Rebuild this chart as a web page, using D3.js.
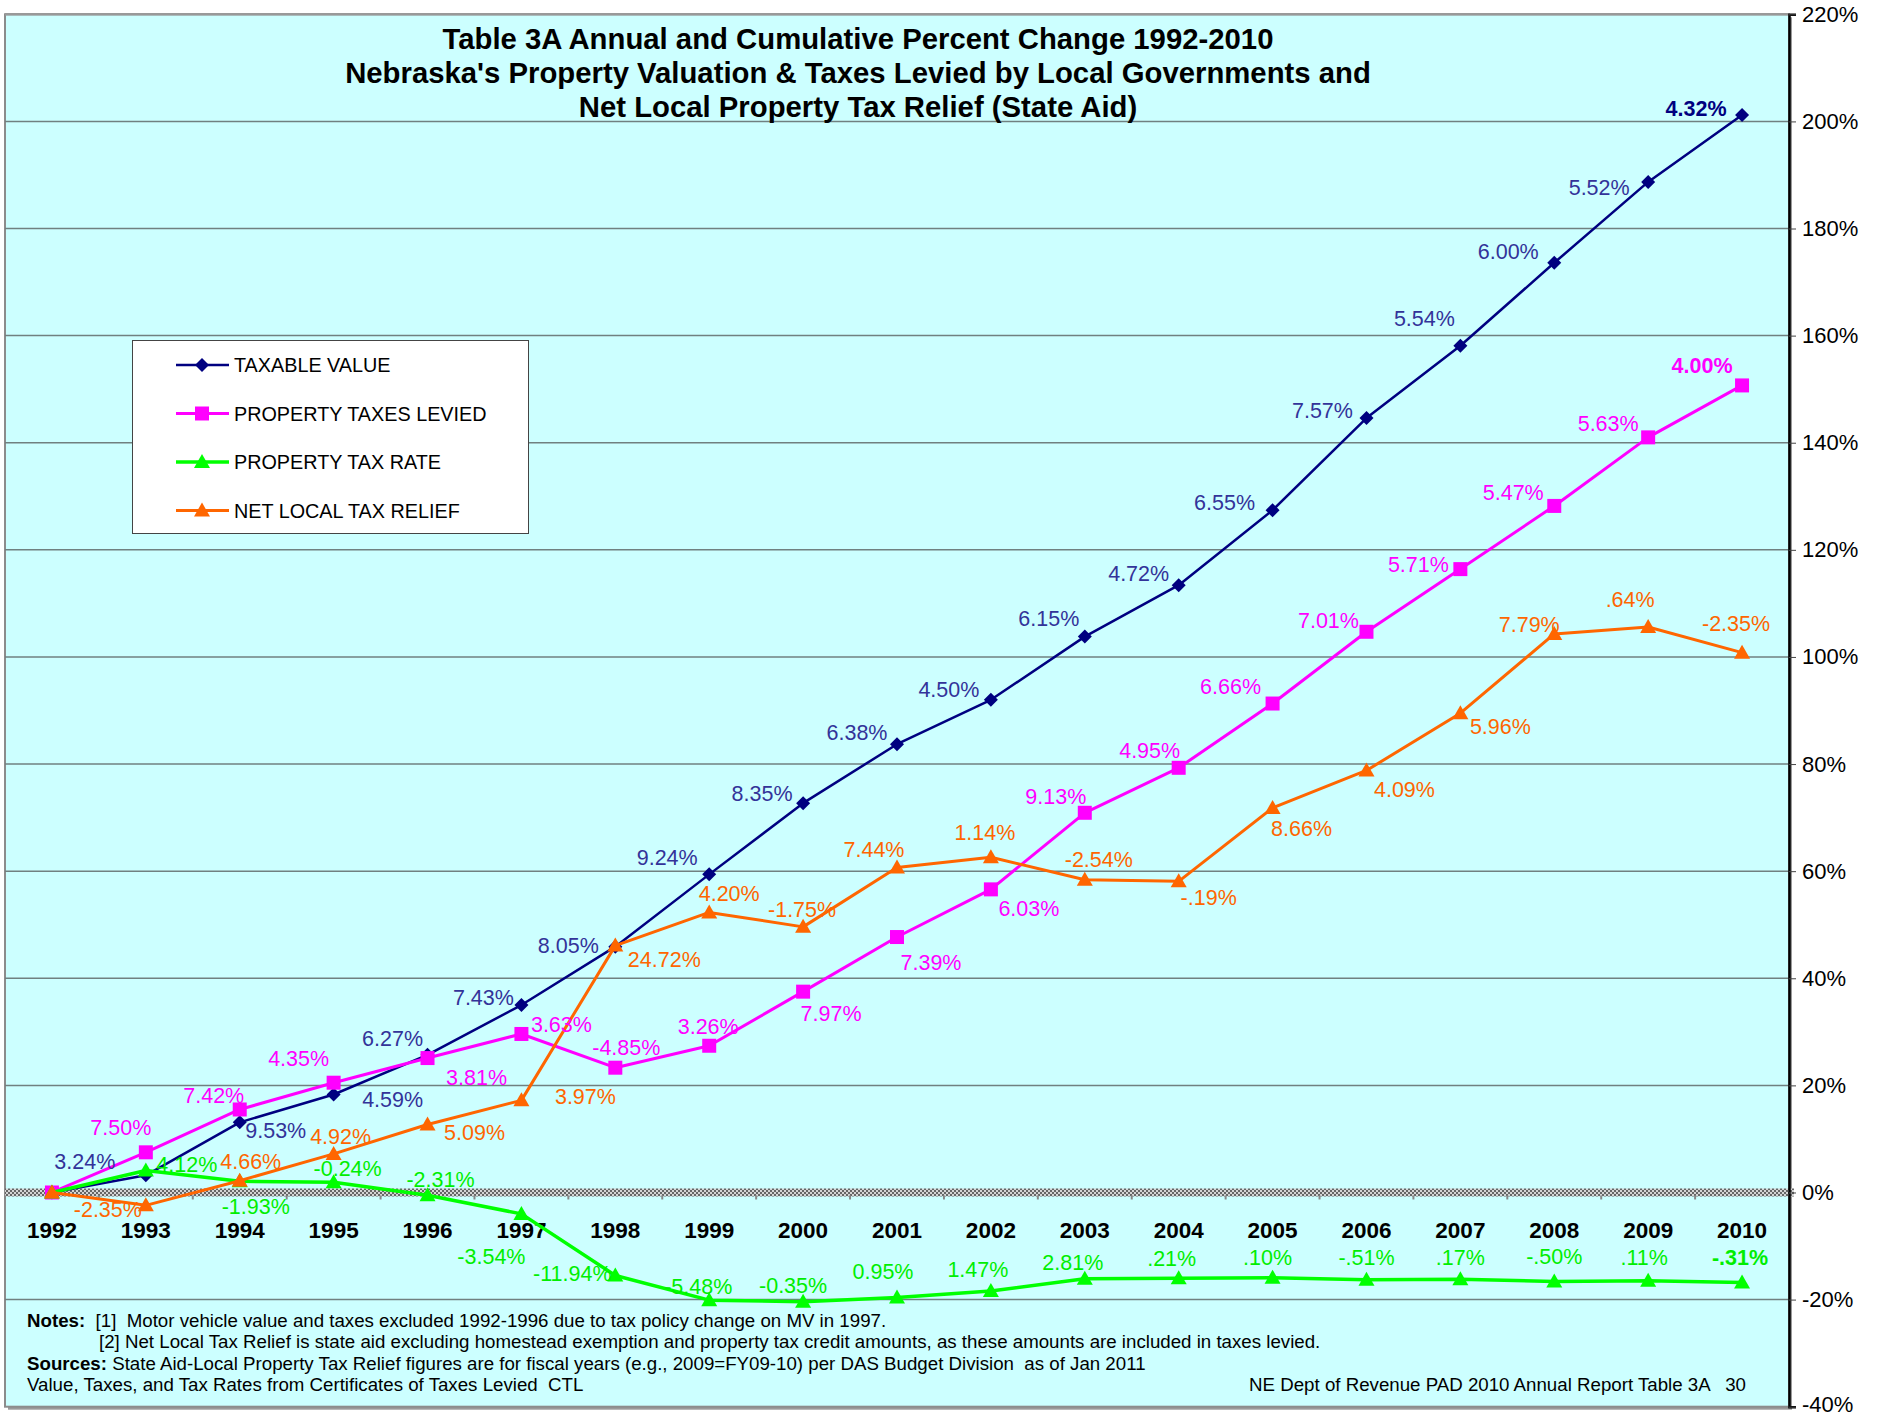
<!DOCTYPE html>
<html>
<head>
<meta charset="utf-8">
<script src="https://cdn.jsdelivr.net/npm/d3@7"></script>
<style>
body { margin: 0; background: #fff; }
svg { display: block; font-family: "Liberation Sans", Arial, sans-serif; }
.notes text { white-space: pre; }
</style>
</head>
<body>
<svg id="chart" width="1887" height="1416"></svg>
<script>
// categories
var years = [1992, 1993, 1994, 1995, 1996, 1997, 1998, 1999, 2000, 2001,
    2002, 2003, 2004, 2005, 2006, 2007, 2008, 2009, 2010];

// cumulative percent change
var taxableValue = [0, 3.2, 13.1, 18.3, 25.7, 35.0, 45.9, 59.4, 72.7, 83.7,
    92.0, 103.8, 113.4, 127.4, 144.6, 158.1, 173.6, 188.7, 201.2];
var taxesLevied = [0, 7.5, 15.5, 20.5, 25.1, 29.6, 23.3, 27.4, 37.5, 47.7,
    56.6, 70.9, 79.3, 91.3, 104.7, 116.4, 128.2, 141.0, 150.7];
var taxRate = [0, 4.1, 2.1, 1.9, -0.5, -4.0, -15.5, -20.1, -20.4, -19.6,
    -18.4, -16.1, -16.0, -15.9, -16.3, -16.2, -16.6, -16.5, -16.8];
var taxRelief = [0, -2.4, 2.2, 7.2, 12.7, 17.2, 46.1, 52.3, 49.6, 60.7,
    62.6, 58.4, 58.1, 71.8, 78.8, 89.5, 104.3, 105.6, 100.8];

// annual percent change labels
var taxableValueLabels = ["", "3.24%", "9.53%", "4.59%", "6.27%", "7.43%", "8.05%", "9.24%", "8.35%", "6.38%",
    "4.50%", "6.15%", "4.72%", "6.55%", "7.57%", "5.54%", "6.00%", "5.52%", "4.32%"];
var taxesLeviedLabels = ["", "7.50%", "7.42%", "4.35%", "3.81%", "3.63%", "-4.85%", "3.26%", "7.97%", "7.39%",
    "6.03%", "9.13%", "4.95%", "6.66%", "7.01%", "5.71%", "5.47%", "5.63%", "4.00%"];
var taxRateLabels = ["", "4.12%", "-1.93%", "-0.24%", "-2.31%", "-3.54%", "-11.94%", "-5.48%", "-0.35%", "0.95%",
    "1.47%", "2.81%", ".21%", ".10%", "-.51%", ".17%", "-.50%", ".11%", "-.31%"];
var taxReliefLabels = ["", "-2.35%", "4.66%", "4.92%", "5.09%", "3.97%", "24.72%", "4.20%", "-1.75%", "7.44%",
    "1.14%", "-2.54%", "-.19%", "8.66%", "4.09%", "5.96%", "7.79%", ".64%", "-2.35%"];

var yTicks = [-40, -20, 0, 20, 40, 60, 80, 100, 120, 140, 160, 180, 200, 220];

// hand placed label offsets (like the excel data labels)
var taxableValuePos = [[0, 0], [-61, -14], [36, 8], [59, 5], [-35, -17], [-38, -8], [-47, -1], [-42, -17], [-41, -10], [-40, -12],
    [-42, -11], [-36, -18], [-40, -12], [-48, -8], [-44, -8], [-36, -28], [-46, -12], [-49, 5], [-46, -7]];
var taxesLeviedPos = [[0, 0], [-25, -25], [-26, -14], [-35, -24], [49, 19], [40, -10], [11, -20], [-1, -19], [28, 22], [34, 25],
    [38, 19], [-29, -17], [-29, -18], [-42, -17], [-38, -12], [-42, -5], [-41, -14], [-40, -14], [-40, -20]];
var taxRatePos = [[0, 0], [41, -6], [16, 25], [14, -14], [13, -16], [-30, 42], [-43, -2], [-11, -14], [-10, -16], [-14, -26],
    [-13, -22], [-12, -16], [-7, -20], [-5, -20], [0, -23], [0, -22], [0, -25], [-4, -24], [-2, -25]];
var taxReliefPos = [[0, 0], [-38, 4], [11, -19], [7, -18], [47, 8], [64, -4], [49, 14], [20, -19], [-1, -18], [-23, -18],
    [-6, -25], [14, -20], [30, 16], [29, 20], [38, 19], [40, 13], [-25, -10], [-18, -28], [-6, -29]];

var series = [
    { name: "TAXABLE VALUE", color: "#000080", labelColor: "#333399", marker: "diamond", width: 2.5,
      values: taxableValue, labels: taxableValueLabels, pos: taxableValuePos },
    { name: "PROPERTY TAXES LEVIED", color: "#ff00ff", labelColor: "#ff00ff", marker: "square", width: 3,
      values: taxesLevied, labels: taxesLeviedLabels, pos: taxesLeviedPos },
    { name: "PROPERTY TAX RATE", color: "#00ff00", labelColor: "#00ee00", marker: "triangle", width: 3.5,
      values: taxRate, labels: taxRateLabels, pos: taxRatePos },
    { name: "NET LOCAL TAX RELIEF", color: "#ff6600", labelColor: "#ff6600", marker: "triangle", width: 3,
      values: taxRelief, labels: taxReliefLabels, pos: taxReliefPos }
];

var markerPaths = {
    diamond: "M0,-7L7,0L0,7L-7,0Z",
    square: "M-7,-7H7V7H-7Z",
    triangle: "M0,-8L8,6L-8,6Z"
};

var plot = { left: 5, right: 1789, top: 14.3, bottom: 1406.7 };

var svg = d3.select("#chart");

var x = d3.scaleBand()
    .domain(years)
    .range([plot.left, plot.right]);

var y = d3.scaleLinear()
    .domain([-40, 220])
    .range([plot.bottom, plot.top]);

function cx(i) {
    return x(years[i]) + x.bandwidth() / 2;
}

// pattern for the thick zero axis
var pat = svg.append("defs").append("pattern")
    .attr("id", "hatch")
    .attr("width", 4)
    .attr("height", 4)
    .attr("patternUnits", "userSpaceOnUse");
pat.append("rect").attr("width", 4).attr("height", 4).attr("fill", "#d4d4d4");
pat.append("rect").attr("width", 2).attr("height", 2).attr("fill", "#666");
pat.append("rect").attr("x", 2).attr("y", 2).attr("width", 2).attr("height", 2).attr("fill", "#666");

// plot area + shadow
svg.append("rect")
    .attr("x", plot.left + 3)
    .attr("y", plot.top + 3)
    .attr("width", plot.right - plot.left)
    .attr("height", plot.bottom - plot.top)
    .attr("fill", "#9a9a9a");

svg.append("rect")
    .attr("x", plot.left)
    .attr("y", plot.top)
    .attr("width", plot.right - plot.left)
    .attr("height", plot.bottom - plot.top)
    .attr("fill", "#ccffff")
    .attr("stroke", "#8c8c8c")
    .attr("stroke-width", 2);

// gridlines
svg.append("g")
    .attr("class", "grid")
    .selectAll("line")
    .data(yTicks.filter(function(d) { return d != 0 && d != -40; }))
    .enter().append("line")
    .attr("x1", plot.left)
    .attr("x2", plot.right)
    .attr("y1", function(d) { return y(d); })
    .attr("y2", function(d) { return y(d); })
    .attr("stroke", function(d) { return d == 220 ? "#999999" : "#708080"; })
    .attr("stroke-width", function(d) { return d == 220 ? 2.5 : 1.5; });

// zero axis band
svg.append("rect")
    .attr("x", plot.left)
    .attr("y", y(0) - 4)
    .attr("width", plot.right - plot.left + 5)
    .attr("height", 8)
    .attr("fill", "url(#hatch)");

svg.append("g")
    .selectAll("line")
    .data(years.concat(["end"]))
    .enter().append("line")
    .attr("x1", function(d) { return d == "end" ? plot.right : x(d); })
    .attr("x2", function(d) { return d == "end" ? plot.right : x(d); })
    .attr("y1", y(0) + 3)
    .attr("y2", y(0) + 7)
    .attr("stroke", "#888")
    .attr("stroke-width", 2);

// year labels
var xAxis = svg.append("g")
    .attr("transform", "translate(0," + y(0) + ")")
    .call(d3.axisBottom(x).tickSize(0).tickPadding(30));
xAxis.select(".domain").remove();
xAxis.selectAll("text")
    .attr("font-family", "Liberation Sans, Arial, sans-serif")
    .attr("font-size", 22.5)
    .attr("font-weight", "bold")
    .attr("fill", "#000");

// value axis on the right
var yAxis = svg.append("g")
    .attr("transform", "translate(" + plot.right + ",0)")
    .call(d3.axisRight(y).tickValues(yTicks).tickSize(7).tickPadding(6)
        .tickFormat(function(d) { return d + "%"; }));
yAxis.select(".domain")
    .attr("stroke", "#000")
    .attr("stroke-width", 2.5);
yAxis.selectAll(".tick line").attr("stroke", "#444");
yAxis.selectAll("text")
    .attr("font-family", "Liberation Sans, Arial, sans-serif")
    .attr("font-size", 22)
    .attr("dy", function(d) { return d == -40 ? "0.2em" : "0.32em"; })
    .attr("fill", "#000");

// series lines
var line = d3.line()
    .x(function(d, i) { return cx(i); })
    .y(function(d) { return y(d); });

var groups = svg.selectAll(".series")
    .data(series)
    .enter().append("g")
    .attr("class", "series");

groups.append("path")
    .attr("d", function(d) { return line(d.values); })
    .attr("fill", "none")
    .attr("stroke", function(d) { return d.color; })
    .attr("stroke-width", function(d) { return d.width; })
    .attr("stroke-linejoin", "round");

groups.each(function(s) {
    d3.select(this).selectAll(".marker")
        .data(s.values)
        .enter().append("path")
        .attr("class", "marker")
        .attr("d", markerPaths[s.marker])
        .attr("transform", function(d, i) {
            return "translate(" + cx(i) + "," + y(d) + ")";
        })
        .attr("fill", s.color);
});

// data labels, last one bold except the relief series
series.forEach(function(s) {
    var last = years.length - 1;
    svg.append("g")
        .selectAll("text")
        .data(s.labels)
        .enter().append("text")
        .attr("x", function(d, i) { return cx(i) + s.pos[i][0]; })
        .attr("y", function(d, i) { return y(s.values[i]) + s.pos[i][1]; })
        .attr("dy", "0.36em")
        .attr("text-anchor", "middle")
        .attr("font-size", 21.5)
        .attr("font-weight", function(d, i) {
            return i == last && s.name != "NET LOCAL TAX RELIEF" ? "bold" : "normal";
        })
        .attr("fill", function(d, i) { return i == last && s.name == "TAXABLE VALUE" ? "#000080" : s.labelColor; })
        .text(function(d) { return d; });
});

// title
var title = ["Table 3A Annual and Cumulative Percent Change 1992-2010",
    "Nebraska's Property Valuation & Taxes Levied by Local Governments and",
    "Net Local Property Tax Relief (State Aid)"];
svg.append("g")
    .selectAll("text")
    .data(title)
    .enter().append("text")
    .attr("x", 858)
    .attr("y", function(d, i) { return 48.5 + i * 34; })
    .attr("text-anchor", "middle")
    .attr("font-size", 29.3)
    .attr("font-weight", "bold")
    .attr("fill", "#000")
    .text(function(d) { return d; });

// legend
var legend = svg.append("g").attr("class", "legend");
legend.append("rect")
    .attr("x", 132.5)
    .attr("y", 340.5)
    .attr("width", 396)
    .attr("height", 193)
    .attr("fill", "#fff")
    .attr("stroke", "#444")
    .attr("stroke-width", 1);

var items = legend.selectAll(".item")
    .data(series)
    .enter().append("g")
    .attr("class", "item")
    .attr("transform", function(d, i) { return "translate(0," + (365 + i * 48.5) + ")"; });

items.append("line")
    .attr("x1", 176)
    .attr("x2", 229)
    .attr("stroke", function(d) { return d.color; })
    .attr("stroke-width", function(d) { return d.width; });
items.append("path")
    .attr("d", function(d) { return markerPaths[d.marker]; })
    .attr("transform", "translate(202,0)")
    .attr("fill", function(d) { return d.color; });
items.append("text")
    .attr("x", 234)
    .attr("dy", "0.36em")
    .attr("font-size", 19.8)
    .attr("fill", "#000")
    .text(function(d) { return d.name; });

// notes
var notes = svg.append("g").attr("class", "notes").attr("font-size", 18.7).attr("fill", "#000");
var n1 = notes.append("text").attr("x", 27).attr("y", 1327);
n1.append("tspan").attr("font-weight", "bold").text("Notes:");
n1.append("tspan").text("  [1]  Motor vehicle value and taxes excluded 1992-1996 due to tax policy change on MV in 1997.");
notes.append("text").attr("x", 99).attr("y", 1348)
    .text("[2] Net Local Tax Relief is state aid excluding homestead exemption and property tax credit amounts, as these amounts are included in taxes levied.");
var n3 = notes.append("text").attr("x", 27).attr("y", 1370);
n3.append("tspan").attr("font-weight", "bold").text("Sources:");
n3.append("tspan").text(" State Aid-Local Property Tax Relief figures are for fiscal years (e.g., 2009=FY09-10) per DAS Budget Division  as of Jan 2011");
notes.append("text").attr("x", 27).attr("y", 1391)
    .text("Value, Taxes, and Tax Rates from Certificates of Taxes Levied  CTL");
notes.append("text").attr("x", 1746).attr("y", 1391)
    .attr("text-anchor", "end")
    .text("NE Dept of Revenue PAD 2010 Annual Report Table 3A   30");
</script>
</body>
</html>
